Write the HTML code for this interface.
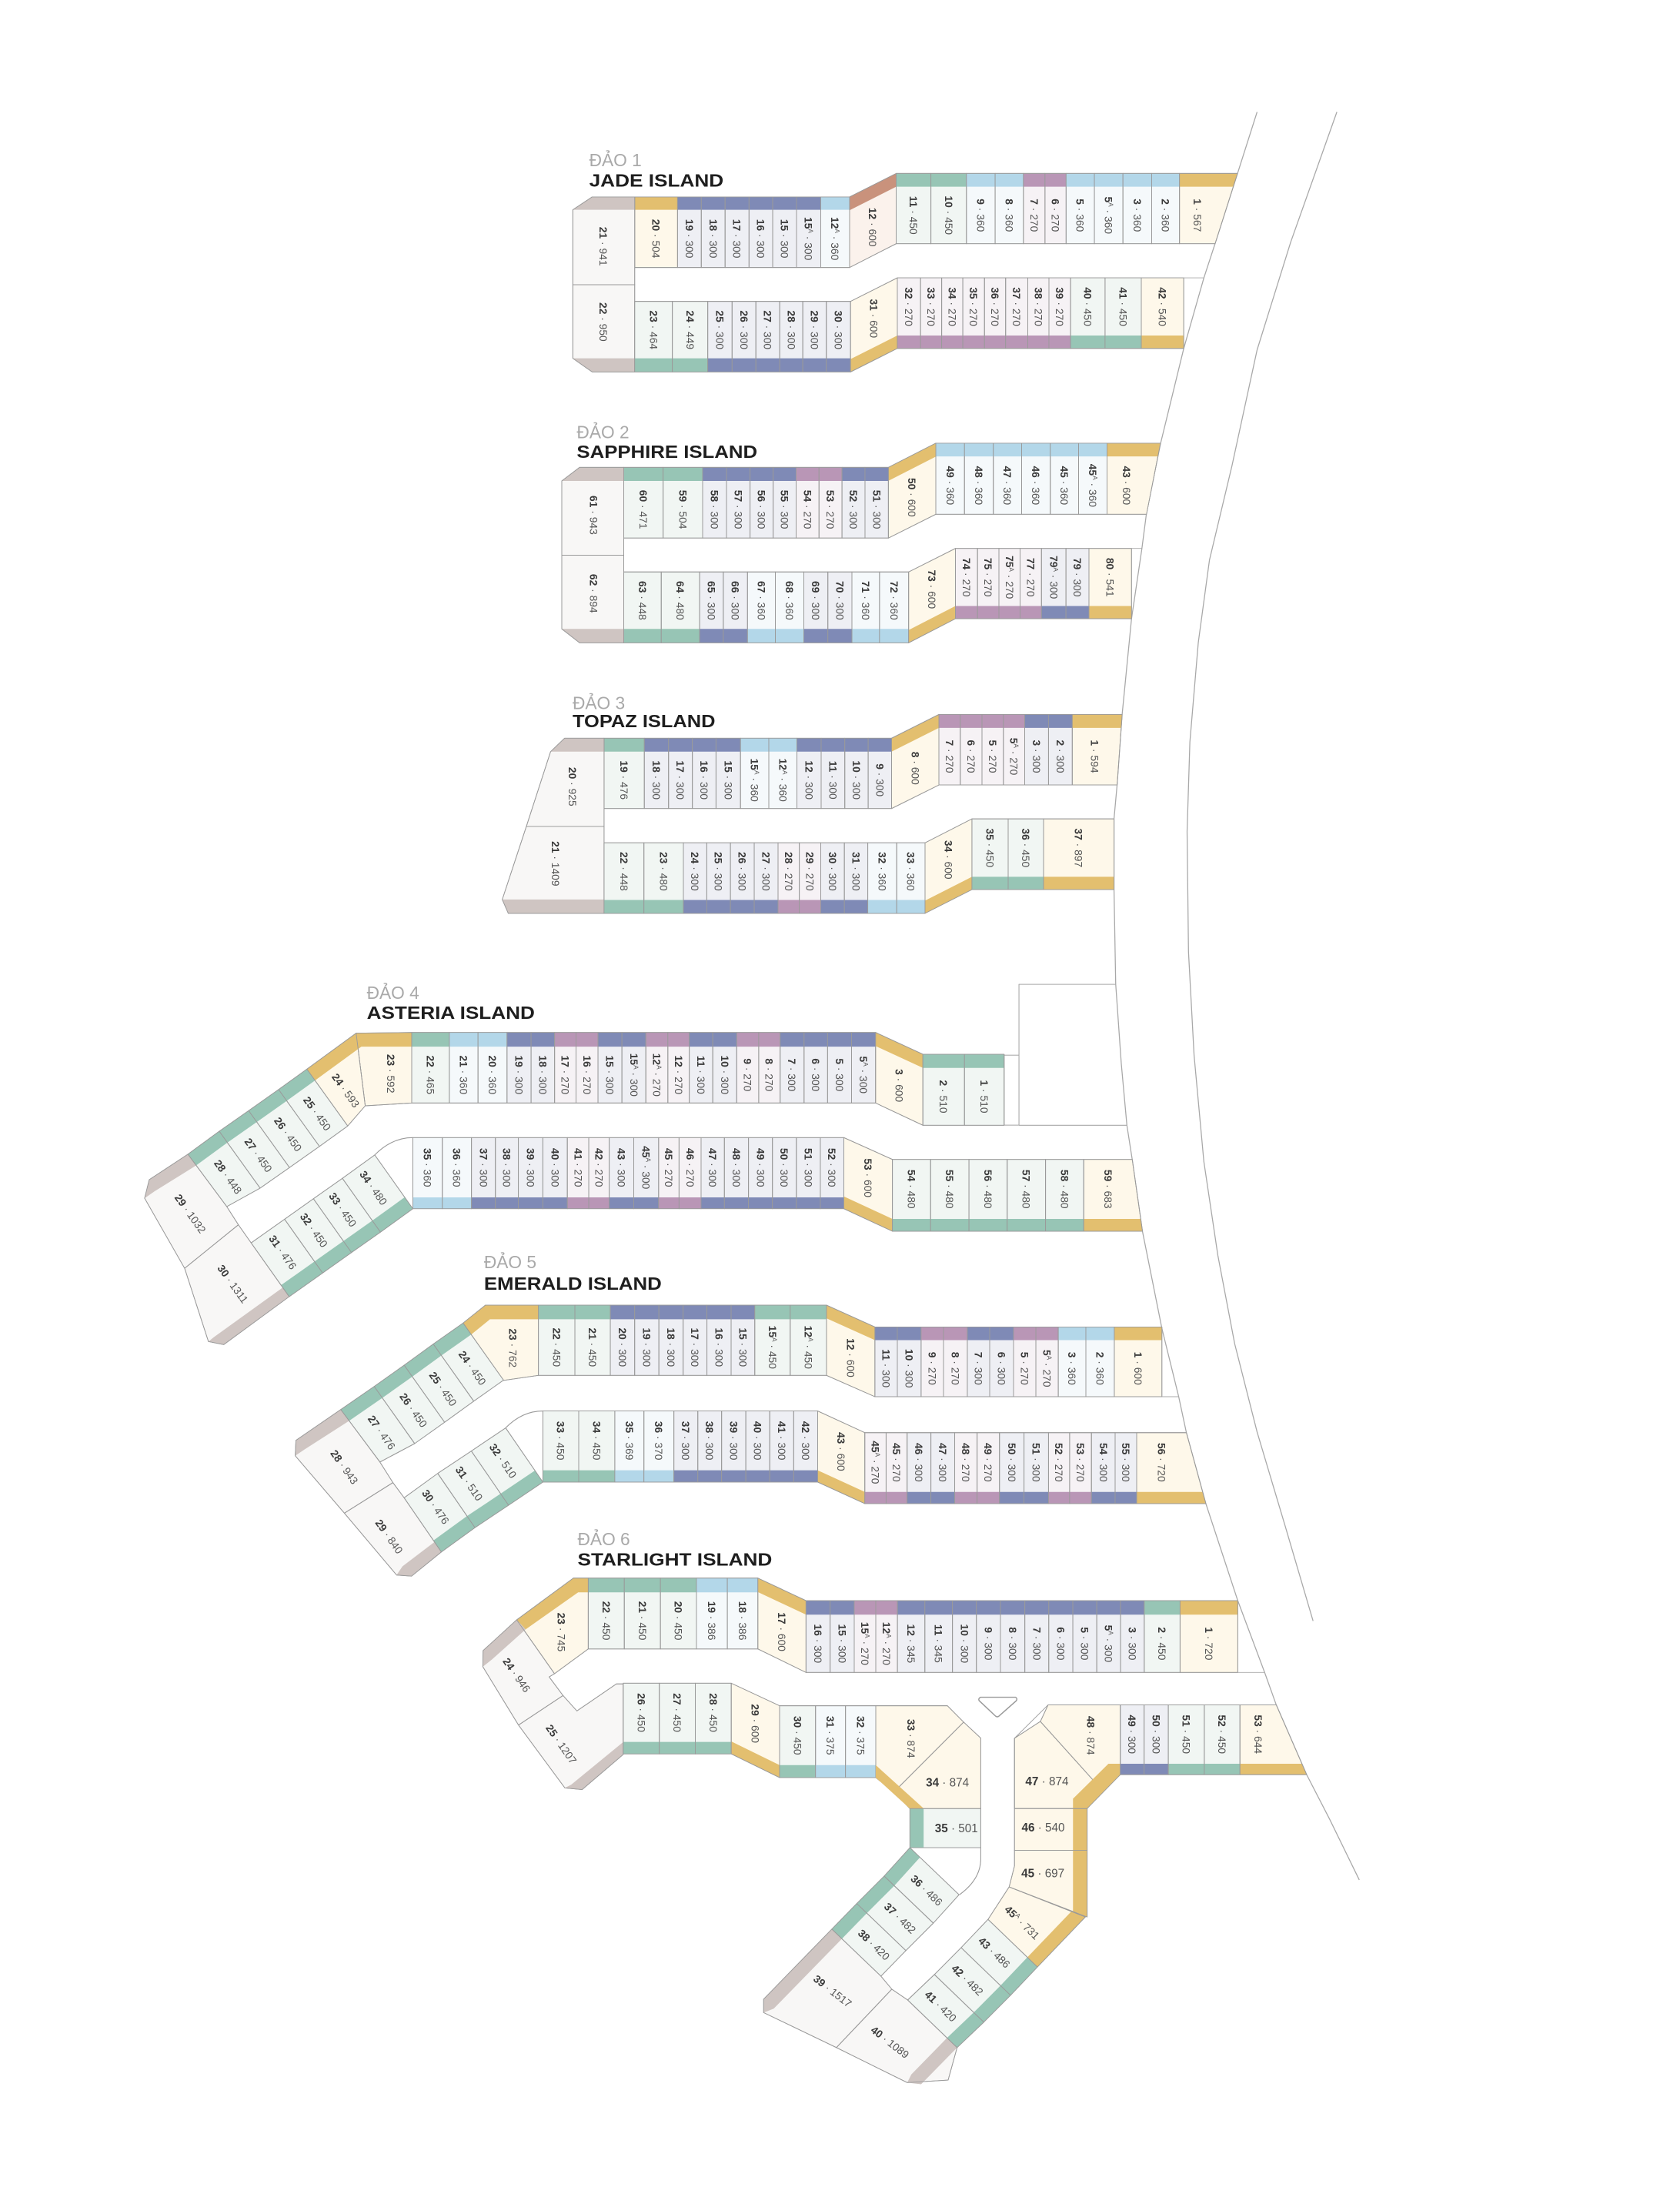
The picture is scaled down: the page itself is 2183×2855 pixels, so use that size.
<!DOCTYPE html>
<html><head><meta charset="utf-8">
<style>
html,body{margin:0;padding:0;background:#fff;}
svg{display:block;}
text{font-family:"Liberation Sans Narrow","Liberation Sans",sans-serif;fill:#555;}
.b{font-weight:700;fill:#3a3a3a;}
.t1{font-family:"Liberation Sans",sans-serif;fill:#a9a9a9;font-size:12.5px;}
.t2{font-family:"Liberation Sans",sans-serif;font-weight:700;fill:#1e1e1e;font-size:12.5px;}
</style></head>
<body>
<svg id="m" xmlns="http://www.w3.org/2000/svg" width="2183" height="2855" viewBox="0 0 1200.11 1569.54" preserveAspectRatio="none"></svg>
<script>
const C={T:'#97c5b5',B:'#7f8ab6',L:'#b3d7e9',M:'#b996b6',G:'#e3bf6f',R:'#cfc5c2',S:'#c9927c'};
const F={T:'#f1f6f3',B:'#eeeff4',L:'#f5f9fb',M:'#f6f2f5',G:'#fef8ea',R:'#f8f7f6',S:'#fbf2ec'};
const STK='#9a9a9a';
let S=[];
const f=v=>(+v).toFixed(1);
const P=pts=>pts.map(p=>f(p[0])+','+f(p[1])).join(' ');
function poly(pts,fill,st){S.push(`<polygon points="${P(pts)}" fill="${fill}"${st?` stroke="${STK}" stroke-width="0.5" stroke-linejoin="round"`:''}/>`);}
function lab(cx,cy,ang,t,fs){
 fs=fs||7.6;
 const [n,a]=t.split('·');const m=n.match(/^(\d+)(A?)$/);
 let s=`<text transform="translate(${f(cx)},${f(cy)}) rotate(${ang})" text-anchor="middle" y="${(fs*0.36).toFixed(2)}" font-size="${fs}"><tspan class="b">${m[1]}</tspan>`;
 if(m[2]) s+=`<tspan font-size="${(fs*0.6).toFixed(2)}" dy="${(-fs*0.35).toFixed(2)}">A</tspan><tspan dy="${(fs*0.35).toFixed(2)}"> · ${a}</tspan>`;
 else s+=`<tspan> · ${a}</tspan>`;
 S.push(s+'</text>');
}
function row(x0,y,h,band,bh,units){
 let x=x0;
 for(const u of units){
  const [t,xe,c]=u;const xb=u.length>3?u[3]:xe;
  poly([[x,y],[xe,y],[xb,y+h],[x,y+h]],F[c],true);
  if(band=='t') poly([[x,y],[xe,y],[xe+(xb-xe)*bh/h,y+bh],[x,y+bh]],C[c]);
  else poly([[x,y+h-bh],[xe+(xb-xe)*(h-bh)/h,y+h-bh],[xb,y+h],[x,y+h]],C[c]);
  poly([[x,y],[xe,y],[xb,y+h],[x,y+h]],'none',true);
  const cy=band=='t'?y+bh+(h-bh)/2:y+(h-bh)/2;
  lab((x+Math.min(xe,xb))/2+ (xe>xb?0:0),cy,90,t);
  x=xe;
 }
}
function conn(x1,x2,yl,hl,yr,hr,band,bh,c,t){
 poly([[x1,yl],[x2,yr],[x2,yr+hr],[x1,yl+hl]],F[c],true);
 if(band=='t') poly([[x1,yl],[x2,yr],[x2,yr+bh],[x1,yl+bh]],C[c]);
 else poly([[x1,yl+hl-bh],[x2,yr+hr-bh],[x2,yr+hr],[x1,yl+hl]],C[c]);
 poly([[x1,yl],[x2,yr],[x2,yr+hr],[x1,yl+hl]],'none',true);
 lab((x1+x2)/2,(yl+yr)/2+hl/2+(band=='t'?bh/2:-bh/2),90,t);
}
function U(pts,c,t,cx,cy,ang,band,fs){
 poly(pts,F[c],true);
 if(band) poly(band,C[c]);
 poly(pts,'none',true);
 lab(cx,cy,ang,t,fs);
}
const add=(p,v,k)=>[p[0]+v[0]*(k||1),p[1]+v[1]*(k||1)];
// strip unit: outer p0,p1, D offset d, band offset b
function SU(p0,p1,d,b,c,t,ang,bc){
 const pts=[p0,p1,add(p1,d),add(p0,d)];
 const band=[p0,p1,add(p1,b),add(p0,b)];
 const m=[(p0[0]+p1[0])/2,(p0[1]+p1[1])/2];
 const bl=Math.hypot(b[0],b[1]),dl=Math.hypot(d[0],d[1]);
 const k=(bl+(dl-bl)/2)/dl;
 poly(pts,F[c],true);poly(band,C[bc||c]);poly(pts,'none',true);
 lab(m[0]+d[0]*k,m[1]+d[1]*k,ang,t);
}
function title(x,y1,y2,a,b,w){
 S.push(`<text class="t1" x="${x}" y="${y1}">${a}</text>`);
 S.push(`<text class="t2" x="${x}" y="${y2}" textLength="${w}" lengthAdjust="spacingAndGlyphs">${b}</text>`);
}
function line(pts,w){S.push(`<polyline points="${P(pts)}" fill="none" stroke="#a8a8a8" stroke-width="${w||0.7}" stroke-linejoin="round"/>`);}

// road lines
line([[898,80],[884,124],[868,174],[860,198.5],[845.6,249],[829,317],[819,366.5],[815.7,392],[808.3,442],[801.6,510.4],[798,560.8],[795.8,585],[795.8,635.5],[797,703],[801,760],[805,803.9],[808.8,828.3],[816.1,879.6],[830,949],[842,997.8],[847.5,1023.5],[861.4,1074.2],[884.2,1143.5],[903.4,1194.8],[911.7,1218],[933.4,1267.8],[950,1300],[971,1343]]);
line([[955,80],[922,173],[898,250],[880,333],[864,400],[856,459],[850,530],[848,594],[849,680],[853,754],[860,830],[870,897],[882,960],[898,1023],[918,1090],[938,1158]]);

// JADE
title(420.9,118.7,133.4,'ĐẢO 1','JADE ISLAND',96);
row(640.2,123.9,50.2,'t',9.5,[['11·450',665,'T'],['10·450',690.4,'T'],['9·360',710.9,'L'],['8·360',731.1,'L'],['7·270',746.5,'M'],['6·270',761.6,'M'],['5·360',781.8,'L'],['5A·360',802.2,'L'],['3·360',822.7,'L'],['2·360',842.6,'L'],['1·567',884,'G',868]]);
row(453.4,140.7,50.4,'t',9.2,[['20·504',484,'G'],['19·300',501,'B'],['18·300',518,'B'],['17·300',535.1,'B'],['16·300',552,'B'],['15·300',569,'B'],['15A·300',586.3,'B'],['12A·360',606.9,'L']]);
conn(606.9,640.2,140.7,50.4,123.9,50.2,'t',9.5,'S','12·600');
U([[409.2,149.9],[423,140.7],[453.4,140.7],[453.4,203.4],[409.2,203.4]],'R','21·941',431,176,90,[[409.2,149.9],[423,140.7],[453.4,140.7],[453.4,149.9]]);
U([[409.2,203.4],[453.4,203.4],[453.4,265.7],[423,265.7],[409.2,256]],'R','22·950',431,230,90,[[409.2,256],[453.4,256],[453.4,265.7],[423,265.7]]);
row(453.4,215.3,50.4,'b',9.7,[['23·464',480.3,'T'],['24·449',505.6,'T'],['25·300',523,'B'],['26·300',540,'B'],['27·300',557,'B'],['28·300',573.5,'B'],['29·300',590.3,'B'],['30·300',607.6,'B']]);
conn(607.6,641,215.3,50.4,198.5,50.4,'b',9.2,'G','31·600');
row(641,198.5,50.4,'b',9.2,[['32·270',657.6,'M'],['33·270',672.7,'M'],['34·270',687.8,'M'],['35·270',703.3,'M'],['36·270',718.4,'M'],['37·270',734.2,'M'],['38·270',749.3,'M'],['39·270',764.8,'M'],['40·450',789.4,'T'],['41·450',815.3,'T'],['42·540',845.6,'G']]);
line([[845.6,198.5],[860,198.5]],0.5);

// SAPPHIRE
title(412,313,327,'ĐẢO 2','SAPPHIRE ISLAND',129);
row(668.5,316.6,50.8,'t',9.5,[['49·360',689,'L'],['48·360',709.6,'L'],['47·360',729.8,'L'],['46·360',750.3,'L'],['45·360',770.5,'L'],['45A·360',790.8,'L'],['43·600',829,'G',819]]);
conn(634.6,668.5,333.9,50.5,316.6,50.8,'t',9.6,'G','50·600');
row(445.6,333.9,50.5,'t',9.7,[['60·471',473.7,'T'],['59·504',501.9,'T'],['58·300',519,'B'],['57·300',535.8,'B'],['56·300',552.3,'B'],['55·300',568.7,'B'],['54·270',585.1,'M'],['53·270',601.5,'M'],['52·300',617.9,'B'],['51·300',634.6,'B']]);
U([[401.3,343.6],[414,333.9],[445.6,333.9],[445.6,396.7],[401.3,396.7]],'R','61·943',424,368,90,[[401.3,343.6],[414,333.9],[445.6,333.9],[445.6,343.6]]);
U([[401.3,396.7],[445.6,396.7],[445.6,459.2],[414,459.2],[401.3,449.3]],'R','62·894',424,424,90,[[401.3,449.3],[445.6,449.3],[445.6,459.2],[414,459.2]]);
row(445.6,408.6,50.6,'b',9.9,[['63·448',472.4,'T'],['64·480',499.8,'T'],['65·300',516.7,'B'],['66·300',534,'B'],['67·360',553.9,'L'],['68·360',574.2,'L'],['69·300',591.4,'B'],['70·300',608.6,'B'],['71·360',628.3,'L'],['72·360',649.1,'L']]);
conn(649.1,682.5,408.6,50.6,391.8,50.2,'b',9.1,'G','73·600');
row(682.5,391.8,50.2,'b',9.1,[['74·270',698.3,'M'],['75·270',713.6,'M'],['75A·270',728.7,'M'],['77·270',744,'M'],['79A·300',761.5,'B'],['79·300',777.9,'B'],['80·541',808.3,'G']]);
line([[808.3,391.8],[815.7,391.8]],0.5);

// TOPAZ
title(409,506.7,519.6,'ĐẢO 3','TOPAZ ISLAND',102);
row(670.7,510.4,50.4,'t',9.6,[['7·270',686,'M'],['6·270',701.5,'M'],['5·270',716.8,'M'],['5A·270',732,'M'],['3·300',749,'B'],['2·300',766,'B'],['1·594',801.6,'G',798]]);
conn(636.9,670.7,527.4,50.2,510.4,50.4,'t',9.6,'G','8·600');
row(431.5,527.4,50.2,'t',9.6,[['19·476',460.3,'T'],['18·300',477.6,'B'],['17·300',494.6,'B'],['16·300',511.5,'B'],['15·300',529,'B'],['15A·360',549.2,'L'],['12A·360',569.3,'L'],['12·300',586.6,'B'],['11·300',603.5,'B'],['10·300',620.2,'B'],['9·300',636.9,'B']]);
U([[393.3,537],[403.3,527.4],[431.5,527.4],[431.5,590.4],[376,590.4]],'R','20·925',409,562,90,[[393.3,537],[403.3,527.4],[431.5,527.4],[431.5,537]]);
U([[376,590.4],[431.5,590.4],[431.5,652.5],[363.1,652.5],[358.8,642.6]],'R','21·1409',397,617,90,[[358.8,642.6],[431.5,642.6],[431.5,652.5],[363.1,652.5]]);
row(431.5,602.1,50.4,'b',9.6,[['22·448',460,'T'],['23·480',488.2,'T'],['24·300',504.9,'B'],['25·300',521.8,'B'],['26·300',538.8,'B'],['27·300',555.8,'B'],['28·270',571,'M'],['29·270',586.3,'M'],['30·300',603.2,'B'],['31·300',619.9,'B'],['32·360',640.6,'L'],['33·360',660.8,'L']]);
conn(660.8,694.3,602.1,50.4,585,50.5,'b',9.1,'G','34·600');
row(694.3,585,50.5,'b',9.1,[['35·450',720.2,'T'],['36·450',745.5,'T'],['37·897',795.8,'G']]);

// ASTERIA
title(262,713.5,727.8,'ĐẢO 4','ASTERIA ISLAND',120);
row(294.1,737.6,50.4,'t',10.1,[['22·465',321,'T'],['21·360',341.5,'L'],['20·360',362.2,'L'],['19·300',379.4,'B'],['18·300',396.2,'B'],['17·270',411.5,'M'],['16·270',427.2,'M'],['15·300',444.3,'B'],['15A·300',461.4,'B'],['12A·270',477.1,'M'],['12·270',492.4,'M'],['11·300',509.2,'B'],['10·300',526.3,'B'],['9·270',542,'M'],['8·270',557.3,'M'],['7·300',574.4,'B'],['6·300',591.2,'B'],['5·300',608.3,'B'],['5A·300',625.5,'B']]);
conn(625.5,659.3,737.6,50.4,753.2,50.7,'t',9.7,'G','3·600');
row(659.3,753.2,50.7,'t',9.7,[['2·510',689,'T'],['1·510',717.3,'T']]);
S.push(`<rect x="717.3" y="753.8" width="10.6" height="50" fill="none" stroke="${STK}" stroke-width="0.5"/>`);
line([[727.9,803.9],[727.9,703.2],[797,703.2]],0.6);line([[727.9,803.9],[805,803.9]],0.6);
// outer arm
U([[254.4,738.1],[294.1,737.6],[294.1,788],[260.9,790]],'G','23·592',279.4,767,90,[[254.4,738.1],[294.1,737.6],[294.1,747.7],[255.6,747.7]]);
U([[254.4,738.1],[260.9,790],[248.4,804.4],[219.2,763.8]],'G','24·593',247,779,54.3,[[254.4,738.1],[219.2,763.8],[225,771.9],[260.2,746.2]]);
{const d=[29.2,40.6],b=[5.84,8.12];
 SU([219.2,763.8],[199,778.4],d,b,'T','25·450',54.3);
 SU([199,778.4],[177.6,793.5],d,b,'T','26·450',54.3);
 SU([177.6,793.5],[156.6,808.2],d,b,'T','27·450',54.3);}
U([[156.6,808.2],[134.2,824.6],[162,862],[185.8,848.8]],'T','28·448',162.9,840.7,54.3,[[156.6,808.2],[134.2,824.6],[140,832.7],[162.4,816.3]]);
U([[134.2,824.6],[106.6,842.8],[103.3,856],[131.9,906.1],[170.3,875],[162,862]],'R','29·1032',136,867,54.3,[[134.2,824.6],[106.6,842.8],[103.3,856],[110.5,851],[140,832.7]]);
U([[131.9,906.1],[148.9,958.4],[159.8,960.6],[206.6,926.3],[179.4,887.9],[170.3,875]],'R','30·1311',166.4,917.2,54.3,[[148.9,958.4],[159.8,960.6],[206.6,926.3],[202,919.8],[152.5,955.5]]);
{const d=[-27.2,-38.4],b=[-5.8,-8.2];
 SU([206.6,926.3],[230.5,909.4],d,b,'T','31·476',54.7);
 SU([230.5,909.4],[251.1,894.8],d,b,'T','32·450',54.7);
 SU([251.1,894.8],[271.8,880.2],d,b,'T','33·450',54.7);
 SU([271.8,880.2],[294.9,863.5],d,b,'T','34·480',54.7);}
S.push(`<path d="M267.7,825.1 Q280,812.7 294.9,812.7" fill="none" stroke="${STK}" stroke-width="0.6"/>`);
row(294.9,812.7,50.8,'b',8.1,[['35·360',316,'L'],['36·360',336.8,'L'],['37·300',353.9,'B'],['38·300',370.3,'B'],['39·300',387.8,'B'],['40·300',405.3,'B'],['41·270',420.6,'M'],['42·270',435.2,'M'],['43·300',452.7,'B'],['45A·300',470.5,'B'],['45·270',485.1,'M'],['46·270',500.8,'M'],['47·300',517.5,'B'],['48·300',534.7,'B'],['49·300',551.8,'B'],['50·300',568.9,'B'],['51·300',586,'B'],['52·300',602.8,'B']]);
conn(602.8,637.5,812.7,50.8,828.3,51.3,'b',8.8,'G','53·600');
row(637.5,828.3,51.3,'b',8.8,[['54·480',664.8,'T'],['55·480',692.2,'T'],['56·480',719.5,'T'],['57·480',746.9,'T'],['58·480',774.2,'T'],['59·683',808.8,'G',816.1]]);

// EMERALD
title(345.7,906,921.5,'ĐẢO 5','EMERALD ISLAND',127);
row(384.6,932.4,50.2,'t',10.1,[['22·450',410.7,'T'],['21·450',436,'T'],['20·300',453.4,'B'],['19·300',470.7,'B'],['18·300',488,'B'],['17·300',505,'B'],['16·300',522.3,'B'],['15·300',539.2,'B'],['15A·450',564.5,'T'],['12A·450',590.4,'T']]);
conn(590.4,625,932.4,50.2,948,49.8,'t',9.4,'G','12·600');
row(625,948,49.8,'t',9.4,[['11·300',641,'B'],['10·300',658,'B'],['9·270',674,'M'],['8·270',691,'M'],['7·300',707,'B'],['6·300',724,'B'],['5·270',740,'M'],['5A·270',756,'M'],['3·360',775.7,'L'],['2·360',796,'L'],['1·600',830,'G']]);
line([[830,997.8],[842,997.8]],0.5);
U([[330.8,945.2],[346.8,932.4],[384.6,932.4],[384.6,982.6],[358.8,986.3]],'G','23·762',366.5,963,90,[[330.8,945.2],[346.8,932.4],[384.6,932.4],[384.6,942.5],[350,942.5],[336.6,953.4]]);
{const d=[28.9,40.8],b=[5.8,8.2];
 SU([330.8,945.2],[309.5,960.2],d,b,'T','24·450',54.7);
 SU([309.5,960.2],[288.7,975.3],d,b,'T','25·450',54.7);
 SU([288.7,975.3],[267.3,990.5],d,b,'T','26·450',54.7);}
U([[267.3,990.5],[243.4,1007],[271.4,1044.5],[296.2,1031.3]],'T','27·476',272.7,1023.3,54.7,[[267.3,990.5],[243.4,1007],[249.2,1015.2],[273.1,998.7]]);
U([[243.4,1007],[211.4,1029],[210.9,1040],[246,1081],[280.7,1059.2],[271.4,1044.5]],'R','28·943',246,1048,54.7,[[243.4,1007],[211.4,1029],[210.9,1040],[217.5,1035.5],[249.2,1015.2]]);
U([[246,1081],[283.3,1125.2],[294,1126],[315.3,1108.7],[288.7,1070],[280.7,1059.2]],'R','29·840',278,1097.7,54.7,[[283.3,1125.2],[294,1126],[315.3,1108.7],[310.5,1101.5],[287.5,1119]]);
{const d=[-26.6,-38.7],b=[-5.7,-8.2];
 SU([315.3,1108.7],[339.3,1091.3],d,b,'T','30·476',55.5);
 SU([339.3,1091.3],[363.3,1075.3],d,b,'T','31·510',55.5);
 SU([363.3,1075.3],[387.8,1058.8],d,b,'T','32·510',55.5);}
S.push(`<path d="M361.2,1020.1 Q373,1008 387.8,1008" fill="none" stroke="${STK}" stroke-width="0.6"/>`);
row(387.8,1008,50.8,'b',8.4,[['33·450',413.4,'T'],['34·450',439.2,'T'],['35·369',460,'L'],['36·370',481.4,'L'],['37·300',498.5,'B'],['38·300',515.5,'B'],['39·300',532.8,'B'],['40·300',549.9,'B'],['41·300',567,'B'],['42·300',584.1,'B']]);
conn(584.1,617.8,1008,50.8,1023.5,50.7,'b',8.4,'G','43·600');
row(617.8,1023.5,50.7,'b',8.4,[['45A·270',633,'M'],['45·270',648,'M'],['46·300',665,'B'],['47·300',682,'B'],['48·270',698,'M'],['49·270',714,'M'],['50·300',731.5,'B'],['51·300',749,'B'],['52·270',764.1,'M'],['53·270',779.7,'M'],['54·300',796.6,'B'],['55·300',812,'B'],['56·720',847.5,'G',861.4]]);

// STARLIGHT
title(412.6,1104,1118.6,'ĐẢO 6','STARLIGHT ISLAND',139);
row(420.2,1127.4,50.6,'t',10.2,[['22·450',446,'T'],['21·450',471.8,'T'],['20·450',497.5,'T'],['19·386',519.6,'L'],['18·386',541.4,'L']]);
conn(541.4,575.8,1127.4,50.6,1143.5,51.3,'t',10,'G','17·600');
row(575.8,1143.5,51.3,'t',10,[['16·300',593,'B'],['15·300',610.2,'B'],['15A·270',625.6,'M'],['12A·270',641.1,'M'],['12·345',660.7,'B'],['11·345',680.4,'B'],['10·300',697.5,'B'],['9·300',714.7,'B'],['8·300',732.1,'B'],['7·300',749.2,'B'],['6·300',766.4,'B'],['5·300',783.5,'B'],['5A·300',800.5,'B'],['3·300',817.4,'B'],['2·450',843,'T'],['1·720',884.2,'G']]);
line([[884.2,1194.8],[903.4,1194.8]],0.5);
U([[369.1,1157.2],[409.6,1127.4],[420.2,1127.4],[420.2,1178],[396.1,1195.7]],'G','23·745',401,1166,90,[[369.1,1157.2],[409.6,1127.4],[420.2,1127.4],[420.2,1137.6],[413,1137.6],[375.5,1164]]);
U([[369.1,1157.2],[345.1,1179.2],[344.9,1190.7],[370.4,1232.4],[402.2,1211.3],[392.3,1198],[396.1,1195.7]],'R','24·946',369.1,1196.6,55,[[369.1,1157.2],[345.1,1179.2],[344.9,1190.7],[351.5,1185.5],[375.5,1164]]);
U([[370.4,1232.4],[403.5,1277.3],[415.8,1278.5],[445.2,1253.4],[445.2,1203],[440.3,1203],[412.1,1222.3],[402.2,1211.3]],'R','25·1207',401,1246,55,[[403.5,1277.3],[415.8,1278.5],[445.2,1253.4],[445.2,1244.5],[408,1275]]);
row(445.2,1202.5,50.5,'b',8.6,[['26·450',471,'T'],['27·450',496.7,'T'],['28·450',522.4,'T']]);
conn(522.4,556.9,1202.5,50.5,1218.6,51.3,'b',8.9,'G','29·600');
row(556.9,1218.6,51.3,'b',8.9,[['30·450',582.6,'T'],['31·375',604,'L'],['32·375',625.6,'L']]);
U([[625.6,1218.6],[676.8,1218.6],[688.4,1230.3],[638.6,1280.2],[625.6,1269.9]],'G','33·874',651,1242,90,null);
U([[688.4,1230.3],[700.6,1241.7],[700.6,1292.1],[650,1292.1],[638.6,1280.2]],'G','34·874',676.8,1273.3,0,null,8.4);
poly([[625.6,1261],[625.6,1269.9],[650,1292.1],[660,1292.1]],C.G);
U([[650,1292.1],[700.6,1292.1],[700.6,1320],[650,1320]],'T','35·501',683.2,1306,0,[[650,1292.1],[659.8,1292.1],[659.8,1320],[650,1320]],8.4);
S.push(`<path d="M700.6,1320 L700.6,1329 Q700,1343 685.4,1353.6" fill="none" stroke="${STK}" stroke-width="0.6"/>`);
{const d=[35.1,33.6],b=[7.2,6.9];
 SU([650,1320],[631.6,1340.3],d,b,'T','36·486',43.8);
 SU([631.6,1340.3],[612,1359.9],d,b,'T','37·482',43.8);
 SU([612,1359.9],[594.2,1378.2],d,b,'T','38·420',43.8);}
U([[594.2,1378.2],[545.5,1428.2],[545.5,1437.8],[597.5,1462.8],[637.1,1421.1],[629.3,1411.8]],'R','39·1517',594.8,1422.4,38,[[594.2,1378.2],[545.5,1428.2],[545.5,1437.8],[552.7,1435],[601.4,1385.1]]);
U([[597.5,1462.8],[648.1,1487.8],[677.3,1486],[683.7,1462.8],[648.4,1428.8],[637.1,1421.1]],'R','40·1089',635.8,1458.9,38,[[648.1,1487.8],[658,1489],[683.7,1462.8],[676.5,1455.9],[651,1482]]);
{const d=[-35.3,-34],b=[-7.2,-6.9];
 SU([683.7,1462.8],[702.8,1444.6],d,b,'T','41·420',44);
 SU([702.8,1444.6],[721.9,1425.4],d,b,'T','42·482',44);
 SU([721.9,1425.4],[741.1,1405.2],d,b,'T','43·486',44);}
U([[741.1,1405.2],[775.3,1369.5],[720.9,1348],[705.8,1371.2]],'G','45A·731',730.2,1373.4,44,[[741.1,1405.2],[775.3,1369.5],[768.1,1362.6],[733.9,1398.3]]);
U([[724.7,1321.9],[776.6,1321.9],[776.6,1369.5],[720.9,1348],[724.7,1333]],'G','45·697',745,1338,0,[[766.5,1321.9],[776.6,1321.9],[776.6,1369.5],[766.5,1365.5]],8.4);
U([[724.7,1292],[776.6,1292],[776.6,1321.9],[724.7,1321.9]],'G','46·540',745.2,1305.5,0,[[766.5,1292],[776.6,1292],[776.6,1321.9],[766.5,1321.9]],8.4);
U([[724.7,1241.8],[743.2,1229.8],[787.6,1279.2],[776.6,1292],[724.7,1292]],'G','47·874',747.9,1272.5,0,null,8.4);
U([[743.2,1229.8],[748.7,1218],[800.3,1218],[800.3,1267.8],[787.6,1279.2]],'G','48·874',779.4,1239.8,90,null);
poly([[766.5,1292],[776.6,1292],[800.3,1267.8],[800.3,1260],[791.8,1260],[766.5,1285]],C.G);
poly([[724.7,1241.8],[748.7,1218],[800.3,1218],[800.3,1267.8],[776.6,1292],[724.7,1292]],'none',true);
row(800.3,1218,49.8,'b',7.8,[['49·300',817.3,'B'],['50·300',834.6,'B'],['51·450',860.3,'T'],['52·450',885.8,'T'],['53·644',911.7,'G',933.4]]);
S.push(`<path d="M700.5,1212.5 L725.5,1212.5 Q727,1213.5 726,1215 L713.6,1226 Q712.4,1227 711.2,1226 L699.5,1215 Q698.5,1213.5 700.5,1212.5 Z" fill="#fff" stroke="#9a9a9a" stroke-width="0.8"/>`);

document.getElementById('m').innerHTML=S.join('');
</script>
</body></html>
